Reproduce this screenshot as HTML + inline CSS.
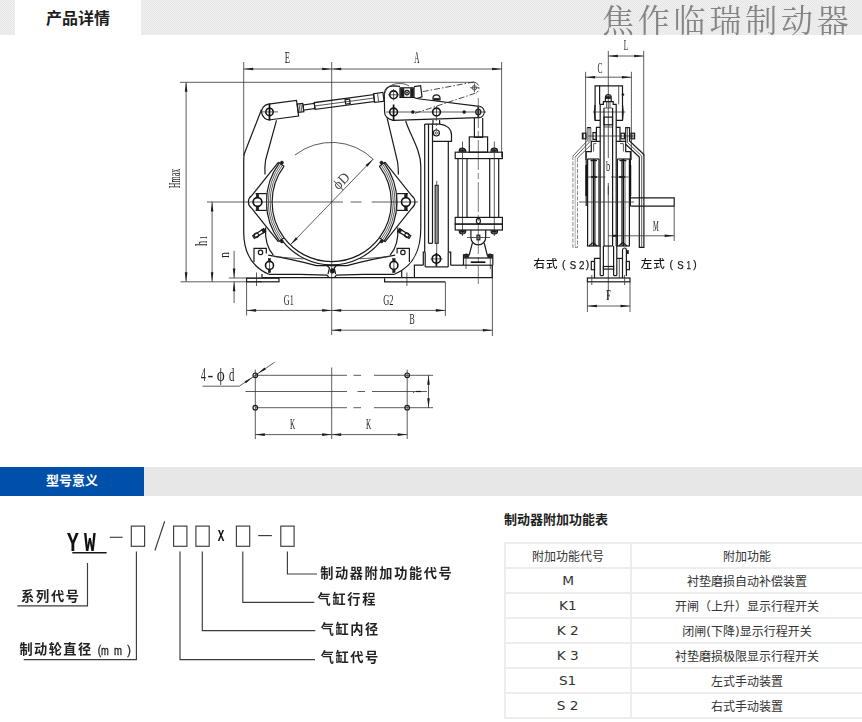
<!DOCTYPE html>
<html lang="zh-CN">
<head>
<meta charset="utf-8">
<title>产品详情</title>
<style>
html,body{margin:0;padding:0;}
body{width:862px;height:722px;position:relative;overflow:hidden;background:#fff;font-family:"Liberation Sans","Noto Sans CJK SC",sans-serif;color:#333;}
.hdr{position:absolute;left:0;top:0;width:862px;height:35px;background:#ececec repeating-conic-gradient(#e8e7e8 0 25%,#f0eff0 0 50%) 0 1px/2px 2px;}
.tab{position:absolute;left:15px;top:0;width:126px;height:36px;background:#fff;text-align:center;font-weight:bold;font-size:16px;line-height:37px;color:#1e1e1e;}
.wm{position:absolute;left:602px;top:-4px;width:262px;height:44px;font-family:"Noto Serif CJK SC","Liberation Serif",serif;font-weight:400;font-size:32px;line-height:44px;letter-spacing:3.8px;color:#858585;white-space:nowrap;will-change:transform;}
.sec{position:absolute;left:0;top:467px;width:862px;height:29px;background:#e7e7e7;}
.sec b{position:absolute;left:0;top:0;width:144px;height:29px;background:#004fa9;color:#fff;font-size:13px;line-height:28px;text-align:center;font-weight:bold;}
svg.dw{position:absolute;left:0;top:0;will-change:transform;}
.k{fill:none;stroke:#1a1a1a;stroke-width:1.2;}
.kb{fill:none;stroke:#111;stroke-width:1.6;}
.k2{fill:none;stroke:#111;stroke-width:1.7;}
.t{fill:none;stroke:#333;stroke-width:.8;}
.mt{fill:none;stroke:#3c3c3c;stroke-width:1.15;}
.t2{fill:none;stroke:#777;stroke-width:.6;}
.tdash{fill:none;stroke:#3a3a3a;stroke-width:.7;stroke-dasharray:3 2;}
.tdash2{fill:none;stroke:#444;stroke-width:.7;stroke-dasharray:30 3 6 3;}
.ph{fill:none;stroke:#333;stroke-width:.9;stroke-dasharray:6 2 1.5 2;}
.ph2{fill:none;stroke:#555;stroke-width:.7;stroke-dasharray:4 1.5;}
.f{fill:#1c1c1c;stroke:#1c1c1c;stroke-width:.5;}
.g{fill:#bbb;stroke:#555;stroke-width:.5;}
.g2{fill:#9a9a9a;stroke:#1a1a1a;stroke-width:1;}
.a{fill:#1c1c1c;stroke:none;}
.lb{font-family:"Liberation Serif",serif;fill:#222;}
.lb3{font-family:"Liberation Serif",serif;fill:#444;}
.cn{font-family:"Liberation Sans","Noto Sans CJK SC",sans-serif;font-size:11.5px;font-weight:500;fill:#151515;}
.cl{font-weight:400;stroke:#151515;stroke-width:.25;}
.m{font-family:"Liberation Sans","Noto Sans CJK SC",sans-serif;font-size:13.2px;font-weight:700;fill:#222;}
.ml{font-weight:400;stroke:#222;stroke-width:.35;}
.ttl{position:absolute;left:504px;top:510px;font-size:13px;font-weight:bold;color:#222;line-height:19px;white-space:nowrap;}
table.ft{position:absolute;left:504px;top:542px;width:360px;border-collapse:collapse;table-layout:fixed;}
table.ft td{border:2px solid #ededed;height:20px;padding:3px 0 0 0;text-align:center;font-size:12px;line-height:20px;color:#333;font-family:"DejaVu Sans","Noto Sans CJK SC",sans-serif;}
table.ft td:first-child{width:124px;}
.la{display:inline-block;transform:scaleX(1.14);position:relative;top:-1px;}
</style>
</head>
<body>
<div class="hdr"></div>
<div class="tab">产品详情</div>
<div class="wm">焦作临瑞制动器</div>
<div class="sec"><b>型号意义</b></div>
<div class="ttl">制动器附加功能表</div>
<table class="ft">
<tr><td>附加功能代号</td><td>附加功能</td></tr>
<tr><td><span class="la">M</span></td><td>衬垫磨损自动补偿装置</td></tr>
<tr><td><span class="la">K1</span></td><td>开闸（上升）显示行程开关</td></tr>
<tr><td><span class="la">K 2</span></td><td>闭闸(下降)显示行程开关</td></tr>
<tr><td><span class="la">K 3</span></td><td>衬垫磨损极限显示行程开关</td></tr>
<tr><td><span class="la">S1</span></td><td>左式手动装置</td></tr>
<tr><td><span class="la">S 2</span></td><td>右式手动装置</td></tr>
</table>
<svg class="dw" width="862" height="722" viewBox="0 0 862 722">
<line class="t" x1="180" y1="82.3" x2="474" y2="82.3"/>
<line class="t" x1="180.5" y1="281.8" x2="262" y2="281.8"/>
<line class="t" x1="243.7" y1="62" x2="243.7" y2="156"/>
<line class="t" x1="331.7" y1="62" x2="331.7" y2="335"/>
<line class="t" x1="501.6" y1="62" x2="501.6" y2="157"/>
<line class="t" x1="243.7" y1="69" x2="331.7" y2="69"/>
<polygon class="a" points="243.70,69.00 253.20,67.70 253.20,70.30"/>
<polygon class="a" points="331.70,69.00 322.20,70.30 322.20,67.70"/>
<line class="t" x1="331.7" y1="69" x2="501.6" y2="69"/>
<polygon class="a" points="331.70,69.00 341.20,67.70 341.20,70.30"/>
<polygon class="a" points="501.60,69.00 492.10,70.30 492.10,67.70"/>
<text class="lb" transform="translate(287.4,57.9) rotate(0)" x="-2.60" y="5.20" font-size="15.88" textLength="5.2" lengthAdjust="spacingAndGlyphs">E</text>
<text class="lb" transform="translate(416.9,57.9) rotate(0)" x="-2.60" y="5.20" font-size="15.88" textLength="5.2" lengthAdjust="spacingAndGlyphs">A</text>
<line class="t" x1="186.1" y1="82.3" x2="186.1" y2="281.8"/>
<polygon class="a" points="186.10,82.30 187.40,91.80 184.80,91.80"/>
<polygon class="a" points="186.10,281.80 184.80,272.30 187.40,272.30"/>
<text class="lb" transform="translate(175.2,178.5) rotate(-90)" x="-9.65" y="5.20" font-size="15.88" textLength="19.3" lengthAdjust="spacingAndGlyphs">Hmax</text>
<line class="t" x1="207" y1="202.0" x2="331.7" y2="202.0"/>
<line class="t" x1="331.7" y1="202.0" x2="343" y2="202.0"/>
<line class="t" x1="350.6" y1="202.0" x2="361.5" y2="202.0"/>
<line class="t" x1="371.7" y1="202.0" x2="418" y2="202.0"/>
<line class="t" x1="212.1" y1="202.0" x2="212.1" y2="281.8"/>
<polygon class="a" points="212.10,202.00 213.40,211.50 210.80,211.50"/>
<polygon class="a" points="212.10,281.80 210.80,272.30 213.40,272.30"/>
<text class="lb" transform="translate(201.3,243.4) rotate(-90)" x="-2.60" y="5.20" font-size="15.88" textLength="5.2" lengthAdjust="spacingAndGlyphs">h</text>
<text class="lb" transform="translate(203.3,237.7) rotate(-90)" x="-1.80" y="3.20" font-size="9.77" textLength="3.6" lengthAdjust="spacingAndGlyphs">1</text>
<line class="t" x1="234.1" y1="250.8" x2="234.1" y2="278"/>
<polygon class="a" points="234.10,278.00 232.80,268.50 235.40,268.50"/>
<line class="t" x1="234.1" y1="281.8" x2="234.1" y2="303"/>
<polygon class="a" points="234.10,281.80 235.40,291.30 232.80,291.30"/>
<line class="t" x1="228.8" y1="278" x2="262" y2="278"/>
<text class="lb" transform="translate(224.2,255) rotate(-90)" x="-3.00" y="5.10" font-size="15.57" textLength="6" lengthAdjust="spacingAndGlyphs">n</text>
<line class="t" x1="246.6" y1="282" x2="246.6" y2="315.5"/>
<line class="t" x1="445.4" y1="282" x2="445.4" y2="316"/>
<line class="t" x1="492.4" y1="265" x2="492.4" y2="336"/>
<line class="t" x1="246.6" y1="310.4" x2="331.7" y2="310.4"/>
<polygon class="a" points="246.60,310.40 256.10,309.10 256.10,311.70"/>
<polygon class="a" points="331.70,310.40 322.20,311.70 322.20,309.10"/>
<line class="t" x1="331.7" y1="310.4" x2="445.4" y2="310.4"/>
<polygon class="a" points="331.70,310.40 341.20,309.10 341.20,311.70"/>
<polygon class="a" points="445.40,310.40 435.90,311.70 435.90,309.10"/>
<line class="t" x1="331.7" y1="330.2" x2="492.4" y2="330.2"/>
<polygon class="a" points="331.70,330.20 341.20,328.90 341.20,331.50"/>
<polygon class="a" points="492.40,330.20 482.90,331.50 482.90,328.90"/>
<text class="lb" transform="translate(288.8,299.6) rotate(0)" x="-4.95" y="5.00" font-size="15.27" textLength="9.9" lengthAdjust="spacingAndGlyphs">G1</text>
<text class="lb" transform="translate(388.3,299.6) rotate(0)" x="-5.10" y="5.00" font-size="15.27" textLength="10.2" lengthAdjust="spacingAndGlyphs">G2</text>
<text class="lb" transform="translate(412.2,318.9) rotate(0)" x="-2.60" y="5.00" font-size="15.27" textLength="5.2" lengthAdjust="spacingAndGlyphs">B</text>
<path class="t" d="M373.47,159.49 A59.6,59.6 0 0 0 295.01,155.03"/>
<path class="k" d="M284.10,237.87 A59.6,59.6 0 0 0 379.30,237.87"/>
<path class="k" d="M283.24,241.95 A62.8,62.8 0 0 0 380.16,241.95"/>
<line class="t" x1="290.3" y1="244.9" x2="373.1" y2="159.1"/>
<polygon class="a" points="290.30,244.87 295.96,237.14 297.83,238.94"/>
<polygon class="a" points="373.10,159.13 367.44,166.86 365.57,165.06"/>
<text class="lb3" transform="translate(341.2,180.8) rotate(-46)" x="-8.75" y="4.80" font-size="14.66" textLength="17.5" lengthAdjust="spacingAndGlyphs">&#981;D</text>
<path class="k" d="M284.10,166.13 A59.6,59.6 0 0 0 284.10,237.87"/>
<path class="t" d="M282.18,165.36 A61.6,61.6 0 0 0 282.18,238.64"/>
<path class="t" d="M280.74,164.29 A63.4,63.4 0 0 0 280.74,239.71"/>
<path class="k" d="M279.29,163.22 A65.2,65.2 0 0 0 279.29,240.78"/>
<line class="k" x1="284.0" y1="166.3" x2="278.5" y2="162.2"/>
<circle class="f" cx="281.9" cy="162.6" r="1.6"/>
<line class="k" x1="284.0" y1="237.7" x2="278.5" y2="241.8"/>
<circle class="f" cx="281.9" cy="241.4" r="1.6"/>
<path class="k" d="M278.5,162.2 L251.6,195.8 A7.6,7.6 0 0 0 251.6,208.2 L278.5,241.8"/>
<circle class="kb" cx="257.5" cy="202.0" r="4.4"/>
<rect class="f" x="256.2" y="193.4" width="2.6" height="3.6"/>
<rect class="f" x="256.2" y="207.0" width="2.6" height="3.6"/>
<polyline class="k" points="255.5,193.6 266.5,193.6"/>
<polyline class="k" points="255.5,210.4 266.5,210.4"/>
<line class="t" x1="266.5" y1="193.6" x2="266.5" y2="210.4"/>
<g transform="translate(259,233.6) rotate(-32)"><rect class="k" x="-6.5" y="-1.6" width="13" height="3.2"/><circle class="k" cx="-3" cy="0" r="2.2"/><rect class="f" x="4" y="-2" width="3" height="4"/></g>
<polyline class="k" points="254,262 254,248.4 266.3,248.4 266.3,253.5"/>
<circle class="k" cx="260.5" cy="252.4" r="2.2"/>
<circle class="kb" cx="269.5" cy="265.4" r="4"/>
<line class="t" x1="269.5" y1="258.5" x2="269.5" y2="272.5"/>
<rect class="f" x="268.3" y="258.6" width="2.4" height="3"/>
<rect class="f" x="268.3" y="269.4" width="2.4" height="3.2"/>
<line class="t" x1="256.5" y1="272.5" x2="256.5" y2="286"/>
<path class="k" d="M379.30,166.13 A59.6,59.6 0 0 1 379.30,237.87"/>
<path class="t" d="M381.22,165.36 A61.6,61.6 0 0 1 381.22,238.64"/>
<path class="t" d="M382.66,164.29 A63.4,63.4 0 0 1 382.66,239.71"/>
<path class="k" d="M384.11,163.22 A65.2,65.2 0 0 1 384.11,240.78"/>
<line class="k" x1="379.4" y1="166.3" x2="384.9" y2="162.2"/>
<circle class="f" cx="381.5" cy="162.6" r="1.6"/>
<line class="k" x1="379.4" y1="237.7" x2="384.9" y2="241.8"/>
<circle class="f" cx="381.5" cy="241.4" r="1.6"/>
<path class="k" d="M384.9,162.2 L411.8,195.8 A7.6,7.6 0 0 1 411.8,208.2 L384.9,241.8"/>
<circle class="kb" cx="405.9" cy="202.0" r="4.4"/>
<rect class="f" x="404.59999999999997" y="193.4" width="2.6" height="3.6"/>
<rect class="f" x="404.59999999999997" y="207.0" width="2.6" height="3.6"/>
<polyline class="k" points="407.9,193.6 396.9,193.6"/>
<polyline class="k" points="407.9,210.4 396.9,210.4"/>
<line class="t" x1="396.9" y1="193.6" x2="396.9" y2="210.4"/>
<g transform="translate(404.4,233.6) rotate(32)"><rect class="k" x="-6.5" y="-1.6" width="13" height="3.2"/><circle class="k" cx="3" cy="0" r="2.2"/><rect class="f" x="-7" y="-2" width="3" height="4"/></g>
<polyline class="k" points="409.4,262 409.4,248.4 397.09999999999997,248.4 397.09999999999997,253.5"/>
<circle class="k" cx="402.9" cy="252.4" r="2.2"/>
<circle class="kb" cx="393.9" cy="265.4" r="4"/>
<line class="t" x1="393.9" y1="258.5" x2="393.9" y2="272.5"/>
<rect class="f" x="392.7" y="258.6" width="2.4" height="3"/>
<rect class="f" x="392.7" y="269.4" width="2.4" height="3.2"/>
<line class="t" x1="406.9" y1="272.5" x2="406.9" y2="286"/>
<path class="k" d="M261.5,109.5 L244.2,154 Q243.7,157 243.7,162 L243.7,232 C243.7,250 250,266 268.8,274.3"/>
<path class="k" d="M276.5,120.4 L265.6,160 Q264.6,166 265,174.5"/>
<path class="k" d="M265.6,227.5 C264.8,240 267,248 273.3,255.2"/>
<path class="k" d="M387.2,118.4 L397.6,162 Q398.4,168 398.4,174.5"/>
<path class="k" d="M405.7,121 C410,135 420.8,150 420.8,166 L420.8,228 C420.8,250 414,266 394.6,274.3"/>
<path class="k" d="M397.8,227.5 C398.6,240 396.4,248 390.1,255.2"/>
<path class="k" d="M268.2,255.2 C285,258 300,261.4 316.4,265.6 L347,265.6 C363.4,261.4 378,258 395.2,255.2"/>
<path class="t" d="M274.6,256.6 C285,257.6 295,258.4 303.6,258.8"/>
<path class="t" d="M388.8,256.6 C378,257.6 368,258.4 359.8,258.8"/>
<path class="k" d="M268.8,274.3 L300,274.4 L327,275.2 L329,277.6"/>
<path class="k" d="M394.6,274.3 L363,274.4 L336.4,275.2 L334.4,277.6"/>
<line class="k" x1="262" y1="277.7" x2="401.7" y2="277.7"/>
<path class="k" d="M327,265.6 L329.5,268 L328,274 M336.4,265.6 L334.2,268 L335.6,274"/>
<circle class="f" cx="332.4" cy="270.9" r="2.4"/>
<line class="k" x1="262" y1="274" x2="262" y2="277.7"/>
<line class="k" x1="401.7" y1="271" x2="401.7" y2="277.7"/>
<rect class="k" x="246.6" y="278.2" width="32.4" height="3.6"/>
<polyline class="k" points="384.6,278.2 384.6,281.8 445.4,281.8"/>
<g transform="rotate(-7.6 269.5 111.9)">
<path class="k" d="M269.5,104 L297.8,104 L297.8,119.8 L269.5,119.8 A7.9,7.9 0 0 1 269.5,104 Z"/>
<rect class="k" x="298" y="107.8" width="5.6" height="8.4"/>
<line class="t" x1="299.8" y1="107.8" x2="299.8" y2="116.2"/>
<line class="t" x1="301.6" y1="107.8" x2="301.6" y2="116.2"/>
<rect class="k" x="303.6" y="109.4" width="11.4" height="5.2"/>
<rect class="k" x="315" y="108.6" width="60" height="6.8"/>
<line class="t" x1="315" y1="112" x2="375" y2="112"/>
<rect class="k" x="346" y="109.8" width="4.6" height="4.4"/>
<rect class="k" x="375" y="107.6" width="9.5" height="8.8"/>
<line class="t" x1="379" y1="107.6" x2="379" y2="116.4"/>
</g>
<circle class="kb" cx="269.5" cy="111.9" r="3.7"/>
<line class="t" x1="262.5" y1="111.9" x2="278" y2="111.9"/>
<line class="k2" x1="269.5" y1="103.5" x2="269.5" y2="120.5"/>
<path class="k" d="M393,120.3 C388,119 384.6,116 384.6,112 L384.3,94 C384.3,89 388,85.9 394,85.9 L400,86.4"/>
<path class="t" d="M384.6,103 C383,96 385,88 392,85 C398,82.6 404,83 409,86"/>
<rect class="k" x="400" y="87.8" width="14" height="9.6"/>
<rect class="f" x="400.6" y="88.4" width="3.4" height="8.4"/>
<rect class="f" x="410.4" y="88.4" width="3.2" height="8.4"/>
<circle class="k" cx="407" cy="92.6" r="2.2"/>
<circle class="f" cx="407" cy="92.6" r="0.8"/>
<path class="k" d="M414,86.6 L420.6,85.6 L422,96.8 L417.4,98.2"/>
<path class="k" d="M414,97.4 C416,98.6 417.6,98.8 420,99 L479.5,106.4"/>
<path class="k" d="M393,120.3 L479,117.7"/>
<path class="k" d="M479.5,106.4 A5.7,5.7 0 0 1 479,117.7"/>
<line class="t" x1="386" y1="112" x2="486" y2="112"/>
<circle class="kb" cx="393.6" cy="94.8" r="3.9"/>
<line class="t" x1="388" y1="94.8" x2="399" y2="94.8"/>
<line class="t" x1="393.6" y1="89" x2="393.6" y2="100.5"/>
<circle class="kb" cx="393.6" cy="112" r="3.9"/>
<line class="k2" x1="393.6" y1="104.5" x2="393.6" y2="121"/>
<circle class="kb" cx="436.5" cy="112" r="3.9"/>
<line class="t" x1="436.5" y1="106" x2="436.5" y2="118"/>
<circle class="f" cx="412.8" cy="112" r="1.5"/>
<circle class="f" cx="464.2" cy="112" r="1.5"/>
<circle class="k" cx="478.3" cy="112" r="2.6"/>
<line class="k2" x1="478.3" y1="107" x2="478.3" y2="117.5"/>
<path class="k" d="M433,99.8 L433,98 A3.5,3.2 0 0 1 440,98 L440,100.4"/>
<rect class="f" x="433.6" y="98.2" width="5.8" height="2.2"/>
<g class="ph">
<line class="ph" x1="422.8" y1="91.6" x2="473.8" y2="82.0"/>
<line class="ph" x1="415" y1="113.3" x2="476.4" y2="92.9"/>
<path class="ph" d="M473.8,82 A6,6 0 0 1 476.4,92.9"/>
</g>
<circle class="t" cx="474.4" cy="87.8" r="2.2"/>
<line class="t" x1="470" y1="87.8" x2="479" y2="87.8"/>
<line class="t" x1="474.4" y1="83.4" x2="474.4" y2="92.2"/>
<line class="k" x1="424.7" y1="124.1" x2="424.7" y2="252.2"/>
<line class="k" x1="428.5" y1="124.1" x2="428.5" y2="243.3"/>
<line class="k" x1="432.5" y1="124.1" x2="432.5" y2="243.3"/>
<line class="k" x1="448.3" y1="141.4" x2="448.3" y2="252.2"/>
<path class="k" d="M424.7,124.1 L440,124.1 C447,125 451.5,129 451.5,135 L451.5,141.4 L432.5,141.4"/>
<line class="k" x1="433" y1="120" x2="433" y2="124.1"/>
<line class="k" x1="439.6" y1="120" x2="439.6" y2="124.1"/>
<circle class="k" cx="436.4" cy="133" r="3"/>
<circle class="t" cx="436.4" cy="133" r="1.1"/>
<line class="tdash" x1="436.4" y1="118" x2="436.4" y2="130"/>
<line class="k" x1="428.5" y1="243.3" x2="432.5" y2="243.3"/>
<line class="t" x1="436.7" y1="180.8" x2="436.7" y2="254"/>
<rect class="g2" x="435.1" y="185.3" width="3.1" height="58"/>
<polyline class="k" points="424.7,252.2 423.3,252.2 423.3,265.2"/>
<polyline class="k" points="448.3,252.2 450.7,252.2 450.7,265.2"/>
<line class="k" x1="425.2" y1="252.2" x2="425.2" y2="266.9"/>
<line class="k" x1="448.2" y1="252.2" x2="448.2" y2="266.9"/>
<line class="k" x1="425.2" y1="266.9" x2="448.2" y2="266.9"/>
<circle class="kb" cx="436.4" cy="258.9" r="4.2"/>
<line class="t" x1="430.5" y1="258.9" x2="442.5" y2="258.9"/>
<line class="k2" x1="436.4" y1="253" x2="436.4" y2="266.5"/>
<polyline class="k" points="414.4,277.7 414.4,265.2 423.3,265.2"/>
<line class="k" x1="450.7" y1="265.2" x2="463.5" y2="265.2"/>
<polyline class="k" points="492.2,265.2 492.2,277.7 401.7,277.7"/>
<line class="tdash2" x1="478.3" y1="98" x2="478.3" y2="284"/>
<polyline class="k" points="474.4,118 474.4,136.9"/>
<polyline class="k" points="482.7,118 482.7,136.9"/>
<rect class="k" x="469.3" y="136.9" width="18.3" height="15.3"/>
<line class="k" x1="474" y1="137.4" x2="483" y2="137.4"/>
<rect class="k" x="455.2" y="152.2" width="47.2" height="6.4"/>
<line class="t" x1="462.5" y1="141.5" x2="462.5" y2="236"/>
<path class="k" d="M459.3,152.2 L459.3,150.6 A3.2,2.4 0 0 1 465.7,150.6 L465.7,152.2"/>
<rect class="f" x="460.1" y="149.6" width="4.8" height="2"/>
<path class="k" d="M459.3,230 L459.3,231.6 A3.2,2.4 0 0 0 465.7,231.6 L465.7,230"/>
<rect class="f" x="460.1" y="230.4" width="4.8" height="2"/>
<line class="t" x1="494.3" y1="141.5" x2="494.3" y2="236"/>
<path class="k" d="M491.1,152.2 L491.1,150.6 A3.2,2.4 0 0 1 497.5,150.6 L497.5,152.2"/>
<rect class="f" x="491.90000000000003" y="149.6" width="4.8" height="2"/>
<path class="k" d="M491.1,230 L491.1,231.6 A3.2,2.4 0 0 0 497.5,231.6 L497.5,230"/>
<rect class="f" x="491.90000000000003" y="230.4" width="4.8" height="2"/>
<line class="k" x1="458" y1="158.6" x2="458" y2="217.4"/>
<line class="k" x1="467" y1="158.6" x2="467" y2="217.4"/>
<line class="k" x1="489.7" y1="158.6" x2="489.7" y2="217.4"/>
<line class="k" x1="498.7" y1="158.6" x2="498.7" y2="217.4"/>
<rect class="k" x="455.2" y="217.4" width="47.2" height="6.7"/>
<rect class="k" x="455.2" y="224.1" width="47.2" height="5.9"/>
<ellipse class="k" cx="478.4" cy="221" rx="2" ry="2.6"/>
<path class="k" d="M470.9,230 L470.9,237.5 A7.4,7.4 0 0 0 485.7,237.5 L485.7,230"/>
<rect class="k" x="477" y="235.2" width="2.8" height="4.6"/>
<line class="t" x1="467" y1="237.5" x2="490" y2="237.5"/>
<polyline class="k" points="472.4,243 469.2,254.8 463.5,254.8 463.5,265.2"/>
<polyline class="k" points="484.2,243 487.2,254.8 492.8,254.8 492.8,265.2"/>
<path class="f" d="M463.8,255 Q466,252.6 469,254.8 M492.5,255 Q490.3,252.6 487.4,254.8"/>
<line class="k" x1="463.5" y1="258" x2="492.8" y2="258"/>
<line class="k2" x1="470.8" y1="262.2" x2="485.4" y2="262.2"/>
<rect class="f" x="464.2" y="255.2" width="4.6" height="2.4"/>
<rect class="f" x="487.6" y="255.2" width="4.6" height="2.4"/>
<line class="t" x1="466" y1="255" x2="466" y2="269"/>
<line class="t" x1="490.3" y1="255" x2="490.3" y2="269"/>
<line class="k" x1="463.5" y1="265.2" x2="492.2" y2="265.2"/>
<line class="t" x1="255.3" y1="369.6" x2="255.3" y2="439"/>
<line class="t" x1="331.7" y1="367.5" x2="331.7" y2="439"/>
<line class="t" x1="407.2" y1="369.6" x2="407.2" y2="439"/>
<line class="t" x1="255.3" y1="375.3" x2="347" y2="375.3"/>
<line class="t" x1="353.5" y1="375.3" x2="361" y2="375.3"/>
<line class="t" x1="374" y1="375.3" x2="433" y2="375.3"/>
<circle class="k" cx="255.3" cy="375.3" r="2.3"/>
<circle class="k" cx="407.2" cy="375.3" r="2.3"/>
<line class="t" x1="255.3" y1="407.7" x2="347" y2="407.7"/>
<line class="t" x1="353.5" y1="407.7" x2="361" y2="407.7"/>
<line class="t" x1="374" y1="407.7" x2="433" y2="407.7"/>
<circle class="k" cx="255.3" cy="407.7" r="2.3"/>
<circle class="k" cx="407.2" cy="407.7" r="2.3"/>
<line class="t" x1="245.5" y1="391.5" x2="347" y2="391.5"/>
<line class="t" x1="357.5" y1="391.5" x2="365" y2="391.5"/>
<line class="t" x1="372" y1="391.5" x2="427" y2="391.5"/>
<line class="t" x1="255.3" y1="434.6" x2="331.7" y2="434.6"/>
<polygon class="a" points="255.30,434.60 264.80,433.30 264.80,435.90"/>
<polygon class="a" points="331.70,434.60 322.20,435.90 322.20,433.30"/>
<line class="t" x1="331.7" y1="434.6" x2="407.2" y2="434.6"/>
<polygon class="a" points="331.70,434.60 341.20,433.30 341.20,435.90"/>
<polygon class="a" points="407.20,434.60 397.70,435.90 397.70,433.30"/>
<text class="lb" transform="translate(292.6,424) rotate(0)" x="-2.60" y="5.00" font-size="15.27" textLength="5.2" lengthAdjust="spacingAndGlyphs">K</text>
<text class="lb" transform="translate(368.6,424) rotate(0)" x="-2.60" y="5.00" font-size="15.27" textLength="5.2" lengthAdjust="spacingAndGlyphs">K</text>
<line class="t" x1="428.5" y1="375.3" x2="428.5" y2="407.7"/>
<polygon class="a" points="428.50,375.30 429.80,384.80 427.20,384.80"/>
<polygon class="a" points="428.50,407.70 427.20,398.20 429.80,398.20"/>
<line class="t" x1="413" y1="392.6" x2="414.2" y2="392.6"/>
<line class="k" x1="416" y1="391.5" x2="421" y2="391.5"/>
<polyline class="t" points="202.5,386.2 239.3,386.2 274.7,362.2"/>
<polygon class="a" points="252.60,377.20 245.92,383.35 244.54,381.38"/>
<polygon class="a" points="257.80,373.60 264.48,367.45 265.86,369.42"/>
<text class="lb" transform="translate(203.3,374.7) rotate(0)" x="-2.40" y="6.40" font-size="19.54" textLength="4.8" lengthAdjust="spacingAndGlyphs">4</text>
<text class="lb" transform="translate(210.3,374.7) rotate(0)" x="-2.90" y="6.40" font-size="19.54" textLength="5.8" lengthAdjust="spacingAndGlyphs">-</text>
<text class="lb" transform="translate(220.8,374.7) rotate(0)" x="-4.00" y="6.40" font-size="19.54" textLength="8" lengthAdjust="spacingAndGlyphs">&#981;</text>
<text class="lb" transform="translate(231.6,374.7) rotate(0)" x="-2.70" y="6.40" font-size="19.54" textLength="5.4" lengthAdjust="spacingAndGlyphs">d</text>
<line class="t" x1="608.3" y1="51" x2="608.3" y2="300"/>
<line class="t" x1="585.6" y1="71.8" x2="585.6" y2="160"/>
<line class="t" x1="631.4" y1="71.8" x2="631.4" y2="160"/>
<line class="t" x1="643.7" y1="51" x2="643.7" y2="156"/>
<line class="t" x1="608.3" y1="56" x2="643.7" y2="56"/>
<polygon class="a" points="608.30,56.00 617.80,54.70 617.80,57.30"/>
<polygon class="a" points="643.70,56.00 634.20,57.30 634.20,54.70"/>
<line class="t" x1="585.6" y1="77.2" x2="631.4" y2="77.2"/>
<polygon class="a" points="585.60,77.20 595.10,75.90 595.10,78.50"/>
<polygon class="a" points="631.40,77.20 621.90,78.50 621.90,75.90"/>
<text class="lb" transform="translate(626,44.9) rotate(0)" x="-2.20" y="5.00" font-size="15.27" textLength="4.4" lengthAdjust="spacingAndGlyphs">L</text>
<text class="lb" transform="translate(599.9,67.5) rotate(0)" x="-2.50" y="5.10" font-size="15.57" textLength="5" lengthAdjust="spacingAndGlyphs">C</text>
<polyline class="k" points="595.1,120.3 595.1,85.8 622.5,85.8 622.5,120.3"/>
<line class="k" x1="599.6" y1="85.8" x2="599.6" y2="104.4"/>
<line class="t" x1="618.7" y1="85.8" x2="618.7" y2="104.4"/>
<path class="k" d="M595.1,105 Q593.6,112 595.1,120.3 L600.2,120.3 M622.5,105 Q624,112 622.5,120.3 L616.2,120.3"/>
<polyline class="k" points="600.2,246 600.2,104.4 603.4,104.4 603.4,101.6 613.2,101.6 613.2,104.4 616.2,104.4 616.2,246"/>
<line class="t" x1="593" y1="112" x2="625.4" y2="112"/>
<path class="k" d="M605.4,101.6 L605.4,97.6 A2.9,3 0 0 1 611.2,97.6 L611.2,101.6"/>
<rect class="f" x="606" y="96.4" width="4.6" height="2.4"/>
<line class="t" x1="606.6" y1="101.6" x2="606.6" y2="108"/>
<line class="t" x1="610" y1="101.6" x2="610" y2="108"/>
<line class="t" x1="604" y1="108" x2="612.4" y2="108"/>
<polyline class="k" points="604,108 604,246"/>
<polyline class="k" points="612.6,108 612.6,246"/>
<rect class="k" x="604" y="117.1" width="8.5" height="7.7"/>
<line class="t" x1="604" y1="127" x2="612.6" y2="127"/>
<circle class="f" cx="622.9" cy="94.6" r="1.1"/>
<polyline class="k" points="600.2,127.3 596.4,127.3 596.4,141.4"/>
<polyline class="k" points="616.2,127.3 620,127.3 620,141.4"/>
<polyline class="k" points="600.2,141.4 591.3,141.4 591.3,151.6 586.2,151.6 586.2,206"/>
<polyline class="k" points="616.2,141.4 625.7,141.4 625.7,151.6 630.4,151.6 630.4,206"/>
<polyline class="t" points="596.4,143.6 593.6,143.6 593.6,151.6"/>
<polyline class="t" points="620,143.6 623.4,143.6 623.4,151.6"/>
<line class="t" x1="588" y1="136" x2="634" y2="136"/>
<rect class="k" x="582.4" y="133.2" width="3.6" height="5.6"/>
<rect class="k" x="593" y="132.6" width="3.2" height="6.8"/>
<rect class="k" x="621" y="133.2" width="3.4" height="5.6"/>
<rect class="k" x="631" y="133.2" width="3.6" height="5.6"/>
<line class="t" x1="583.6" y1="133.2" x2="583.6" y2="138.8"/>
<line class="t" x1="632.8" y1="133.2" x2="632.8" y2="138.8"/>
<polyline class="k" points="625.7,141.4 625.7,127.6 629.6,127.6 629.6,141 643.9,154.6 643.9,247.4 639.3,247.4 639.3,157 625.7,144.2"/>
<polyline class="t" points="627.6,127.6 627.6,142.6 641.7,156 641.7,247.4"/>
<polyline class="t" points="590.8,141.4 590.8,127.6 587.2,127.6 587.2,141 572.9,156"/>
<polyline class="t" points="577.5,158 590.8,145"/>
<polyline class="t" points="589,127.6 589,142.6 575.2,157"/>
<polyline class="ph2" points="572.9,156 572.9,247.4 577.5,247.4"/>
<line class="t2" x1="575.2" y1="157" x2="575.2" y2="247.4"/>
<line class="ph2" x1="577.5" y1="158" x2="577.5" y2="247.4"/>
<path class="k" d="M587.2,127.6 L590.8,127.6"/>
<line class="k" x1="586.8" y1="246" x2="600.2" y2="246"/>
<line class="k" x1="616.2" y1="246" x2="629.8" y2="246"/>
<line class="k" x1="587.4" y1="159" x2="599" y2="159"/>
<line class="k" x1="617.4" y1="159" x2="630" y2="159"/>
<line class="k" x1="587.6" y1="159" x2="587.6" y2="246"/>
<line class="t" x1="591.9" y1="159" x2="591.9" y2="246"/>
<line class="k2" x1="593.8" y1="159" x2="593.8" y2="246"/>
<line class="t" x1="595.2" y1="159" x2="595.2" y2="246"/>
<line class="k" x1="599" y1="159" x2="599" y2="246"/>
<line class="k" x1="617.4" y1="159" x2="617.4" y2="246"/>
<line class="t" x1="621.6" y1="159" x2="621.6" y2="246"/>
<line class="k2" x1="623.2" y1="159" x2="623.2" y2="246"/>
<line class="t" x1="625" y1="159" x2="625" y2="246"/>
<line class="k" x1="629.4" y1="159" x2="629.4" y2="246"/>
<line class="k2" x1="586.2" y1="165" x2="586.2" y2="196"/>
<line class="k2" x1="630.4" y1="165" x2="630.4" y2="196"/>
<polyline class="k" points="590.5,160.6 597,160.6"/>
<polyline class="k" points="619.4,160.6 626.4,160.6"/>
<path class="k" d="M589,246 L592.2,243 L593.8,243 L597,246 M619,246 L621.8,243 L623.4,243 L627,246"/>
<line class="k" x1="604" y1="246" x2="612.6" y2="246"/>
<line class="t" x1="588" y1="177" x2="628.6" y2="177"/>
<rect class="f" x="591.6" y="176.2" width="5" height="1.6"/>
<rect class="f" x="619.6" y="176.2" width="5" height="1.6"/>
<text class="lb" transform="translate(608,166.2) rotate(0)" x="-2.10" y="4.80" font-size="14.66" textLength="4.2" lengthAdjust="spacingAndGlyphs">b</text>
<rect x="605.4" y="158" width="5.6" height="28" fill="#fff"/>
<text class="lb" transform="translate(608,166.2) rotate(0)" x="-2.10" y="4.80" font-size="14.66" textLength="4.2" lengthAdjust="spacingAndGlyphs">b</text>
<line class="t" x1="608.3" y1="183" x2="608.3" y2="195"/>
<line class="t" x1="579" y1="202" x2="634" y2="202"/>
<polyline class="k" points="630.4,197.9 674.2,197.9 674.2,206.2 630.4,206.2"/>
<line class="t" x1="674.2" y1="206.2" x2="674.2" y2="241"/>
<line class="t" x1="608.3" y1="235.8" x2="674.2" y2="235.8"/>
<polygon class="a" points="674.20,235.80 664.70,237.10 664.70,234.50"/>
<rect class="f" x="612.8" y="235" width="4.6" height="1.6"/>
<text class="lb" transform="translate(655.9,226) rotate(0)" x="-2.90" y="5.00" font-size="15.27" textLength="5.8" lengthAdjust="spacingAndGlyphs">M</text>
<line class="k" x1="600.2" y1="246" x2="600.2" y2="275.6"/>
<line class="k" x1="603.4" y1="246" x2="603.4" y2="275.6"/>
<line class="k" x1="613.6" y1="246" x2="613.6" y2="275.6"/>
<line class="k" x1="616.8" y1="246" x2="616.8" y2="275.6"/>
<polyline class="k" points="600.2,275.6 603.4,275.6"/>
<polyline class="k" points="613.6,275.6 616.8,275.6"/>
<rect class="k" x="603.4" y="266.5" width="10.2" height="2.6"/>
<polyline class="k" points="600.2,258.4 594.5,258.4 594.5,278"/>
<rect class="k" x="591.3" y="261.4" width="3.2" height="8.3"/>
<polyline class="k" points="616.8,258.4 622.5,258.4"/>
<line class="t" x1="619.3" y1="258.4" x2="619.3" y2="278"/>
<path class="k" d="M622.5,278 L622.5,250 Q622.6,248 624.4,248 Q626.4,248 626.4,250 L626.4,276"/>
<rect class="k" x="626.4" y="261.4" width="3" height="8.3"/>
<rect class="f" x="626.4" y="250.4" width="2.2" height="3.4"/>
<rect class="k" x="587.4" y="278" width="42.6" height="3.8"/>
<line class="t" x1="591.8" y1="275" x2="591.8" y2="285"/>
<line class="t" x1="624.6" y1="275" x2="624.6" y2="285"/>
<line class="t" x1="587.4" y1="282" x2="587.4" y2="312"/>
<line class="t" x1="630" y1="282" x2="630" y2="312"/>
<line class="t" x1="587.4" y1="306" x2="630" y2="306"/>
<polygon class="a" points="587.40,306.00 596.90,304.70 596.90,307.30"/>
<polygon class="a" points="630.00,306.00 620.50,307.30 620.50,304.70"/>
<text class="lb" transform="translate(608.5,294.5) rotate(0)" x="-2.40" y="5.00" font-size="15.27" textLength="4.8" lengthAdjust="spacingAndGlyphs">F</text>
<text class="cn" x="533.4" y="268.2" textLength="24" lengthAdjust="spacing">右式</text>
<text class="cn cl" x="562.0" y="267.59999999999997" textLength="3.4" lengthAdjust="spacingAndGlyphs">(</text>
<text class="cn cl" x="569.8" y="269.0" font-size="12.4" textLength="6.4" lengthAdjust="spacingAndGlyphs">S</text>
<text class="cn cl" x="579.0" y="269.2" font-size="9.4" textLength="5.4" lengthAdjust="spacingAndGlyphs">2</text>
<text class="cn cl" x="585.8" y="267.59999999999997" textLength="3.4" lengthAdjust="spacingAndGlyphs">)</text>
<text class="cn" x="640.8" y="268.2" textLength="24" lengthAdjust="spacing">左式</text>
<text class="cn cl" x="669.4" y="267.59999999999997" textLength="3.4" lengthAdjust="spacingAndGlyphs">(</text>
<text class="cn cl" x="677.1999999999999" y="269.0" font-size="12.4" textLength="6.4" lengthAdjust="spacingAndGlyphs">S</text>
<text class="cn cl" x="686.4" y="269.2" font-size="9.4" textLength="4.4" lengthAdjust="spacingAndGlyphs">1</text>
<text class="cn cl" x="693.1999999999999" y="267.59999999999997" textLength="3.4" lengthAdjust="spacingAndGlyphs">)</text>
<g class="mdl">
<text transform="translate(72.9,551) scale(0.7,1)" font-size="28" text-anchor="middle" style="font-family:'Liberation Mono',monospace;font-weight:bold;fill:#111">Y</text>
<text transform="translate(90,551) scale(0.7,1)" font-size="28" text-anchor="middle" style="font-family:'Liberation Mono',monospace;font-weight:bold;fill:#111">W</text>
<line class="k" x1="72.3" y1="552.7" x2="106.6" y2="552.7" style="stroke-width:1.4"/>
<line class="mt" x1="109.8" y1="537.3" x2="122.6" y2="537.3"/>
<rect class="mt" x="131.3" y="526.1" width="13.3" height="20.2"/>
<line class="mt" x1="154.9" y1="550.5" x2="164.7" y2="521.3"/>
<rect class="mt" x="173.6" y="526.1" width="13.3" height="20.2"/>
<rect class="mt" x="195.9" y="526.1" width="13.3" height="20.2"/>
<text transform="translate(221,541.4) scale(0.66,1)" font-size="16.6" text-anchor="middle" style="font-family:'Liberation Mono',monospace;font-weight:bold;fill:#111">X</text>
<rect class="mt" x="236.4" y="526.1" width="13.3" height="20.2"/>
<line class="mt" x1="258.2" y1="535.6" x2="271.9" y2="535.6"/>
<rect class="mt" x="280.8" y="526.1" width="13.3" height="20.2"/>
<polyline class="mt" points="87.5,563 87.5,605.8 17.3,605.8"/>
<polyline class="mt" points="136.4,551.5 136.4,659.6 23.7,659.6"/>
<polyline class="mt" points="180,551.5 180,659.6 315,659.6"/>
<polyline class="mt" points="202.3,551.5 202.3,630.6 315.3,630.6"/>
<polyline class="mt" points="242.8,551.5 242.8,602.4 314.3,602.4"/>
<polyline class="mt" points="287.4,551.5 287.4,574 317,574"/>
<text class="m" x="21" y="601.4" textLength="58" lengthAdjust="spacing">系列代号</text>
<text class="m" x="19.4" y="654" textLength="71.8" lengthAdjust="spacing">制动轮直径</text>
<text class="m ml" x="97.8" y="653.6" textLength="3.4" lengthAdjust="spacingAndGlyphs">(</text>
<text class="m ml" x="101" y="654.6" textLength="7.8" lengthAdjust="spacingAndGlyphs">m</text>
<text class="m ml" x="114" y="654.6" textLength="8" lengthAdjust="spacingAndGlyphs">m</text>
<text class="m ml" x="127.2" y="653.6" textLength="3.6" lengthAdjust="spacingAndGlyphs">)</text>
<text class="m" x="320.2" y="578" textLength="131.5" lengthAdjust="spacing">制动器附加功能代号</text>
<text class="m" x="317.6" y="604" textLength="57.8" lengthAdjust="spacing">气缸行程</text>
<text class="m" x="320.8" y="634" textLength="57.4" lengthAdjust="spacing">气缸内径</text>
<text class="m" x="320.8" y="661.8" textLength="57.4" lengthAdjust="spacing">气缸代号</text>
</g>

</svg>
</body>
</html>
